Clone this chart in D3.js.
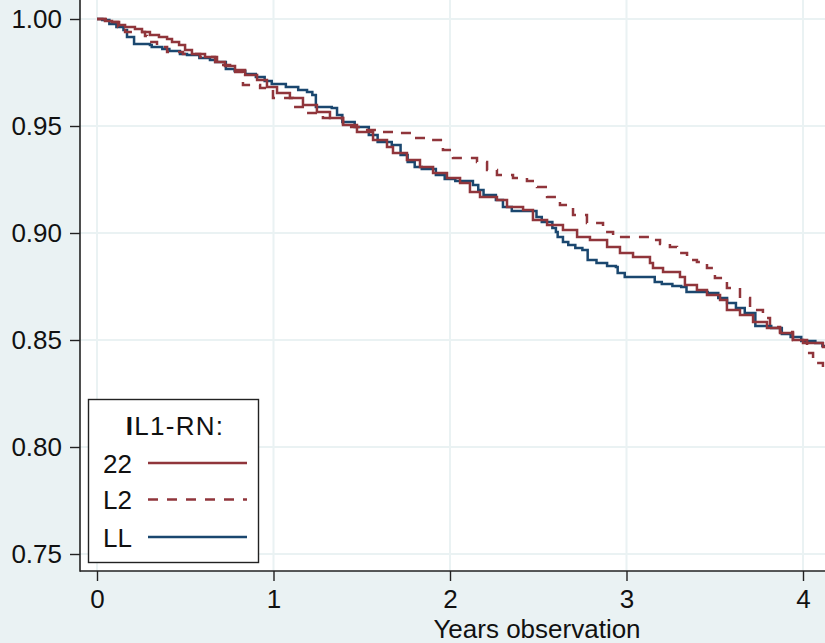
<!DOCTYPE html>
<html>
<head>
<meta charset="utf-8">
<script src="https://cdn.jsdelivr.net/npm/d3@7"></script>
<style>
  html, body { margin: 0; padding: 0; background: #eaf2f3; }
  svg { display: block; }
  text { font-family: "Liberation Sans", Arial, Helvetica, sans-serif; fill: #111; }
</style>
</head>
<body>
<svg id="chart" width="825" height="643"></svg>
<script>
// ---- data (Kaplan-Meier survival estimates by IL1-RN genotype) ----
const groups = ["22", "L2", "LL"];
const legendTitle = "IL1-RN:";
const xLabel = "Years observation";
const xTicks = [0, 1, 2, 3, 4];
const yTicks = [0.75, 0.80, 0.85, 0.90, 0.95, 1.00];

const time22 = [0, 0.045, 0.085, 0.125, 0.159, 0.215, 0.255, 0.300, 0.351, 0.397, 0.425, 0.465, 0.499, 0.538, 0.612, 0.669, 0.725, 0.782, 0.839, 0.907, 0.963, 1.020, 1.093, 1.167, 1.246, 1.320, 1.394, 1.473, 1.564, 1.643, 1.677, 1.756, 1.830, 1.904, 1.983, 2.057, 2.113, 2.170, 2.266, 2.323, 2.414, 2.470, 2.550, 2.640, 2.720, 2.793, 2.890, 2.963, 3.037, 3.133, 3.150, 3.207, 3.303, 3.331, 3.399, 3.456, 3.530, 3.569, 3.643, 3.717, 3.796, 3.870, 3.943, 4.023, 4.113, 4.200];
const surv22 = [1, 0.9991, 0.9986, 0.9972, 0.9963, 0.9953, 0.9939, 0.9925, 0.9916, 0.9907, 0.9893, 0.9879, 0.9855, 0.9836, 0.9822, 0.9799, 0.9780, 0.9762, 0.9738, 0.9715, 0.9682, 0.9654, 0.9631, 0.9598, 0.9565, 0.9537, 0.9505, 0.9472, 0.9435, 0.9402, 0.9374, 0.9341, 0.9308, 0.9280, 0.9257, 0.9234, 0.9192, 0.9168, 0.9154, 0.9121, 0.9107, 0.9061, 0.9037, 0.9014, 0.8981, 0.8967, 0.8935, 0.8907, 0.8888, 0.8860, 0.8836, 0.8818, 0.8794, 0.8757, 0.8734, 0.8710, 0.8687, 0.8640, 0.8617, 0.8584, 0.8556, 0.8533, 0.8500, 0.8486, 0.8467, 0.8467];

const timeL2 = [0, 0.062, 0.119, 0.159, 0.272, 0.283, 0.340, 0.397, 0.487, 0.584, 0.680, 0.754, 0.827, 0.924, 0.997, 1.110, 1.190, 1.280, 1.394, 1.490, 1.603, 1.717, 1.790, 1.870, 1.960, 2.017, 2.153, 2.210, 2.266, 2.357, 2.436, 2.493, 2.550, 2.623, 2.697, 2.776, 2.867, 2.924, 3.133, 3.190, 3.246, 3.286, 3.343, 3.399, 3.456, 3.501, 3.569, 3.643, 3.700, 3.773, 3.813, 3.870, 3.943, 4.000, 4.023, 4.057, 4.113, 4.200];
const survL2 = [1, 0.9986, 0.9963, 0.9939, 0.9921, 0.9893, 0.9869, 0.9846, 0.9836, 0.9822, 0.9785, 0.9752, 0.9692, 0.9678, 0.9631, 0.9589, 0.9561, 0.9537, 0.9495, 0.9481, 0.9472, 0.9467, 0.9444, 0.9435, 0.9388, 0.9350, 0.9332, 0.9294, 0.9271, 0.9257, 0.9243, 0.9215, 0.9168, 0.9131, 0.9084, 0.9047, 0.9005, 0.8981, 0.8967, 0.8949, 0.8935, 0.8907, 0.8874, 0.8864, 0.8836, 0.8790, 0.8743, 0.8696, 0.8640, 0.8603, 0.8561, 0.8537, 0.8500, 0.8486, 0.8439, 0.8393, 0.8369, 0.8369];

const timeLL = [0, 0.03, 0.07, 0.11, 0.15, 0.17, 0.21, 0.30, 0.31, 0.37, 0.41, 0.47, 0.51, 0.58, 0.64, 0.67, 0.73, 0.78, 0.84, 0.90, 0.95, 0.99, 1.07, 1.14, 1.19, 1.22, 1.24, 1.33, 1.36, 1.39, 1.46, 1.54, 1.59, 1.67, 1.72, 1.76, 1.80, 1.84, 1.92, 1.97, 2.03, 2.13, 2.16, 2.19, 2.26, 2.30, 2.35, 2.49, 2.52, 2.58, 2.60, 2.61, 2.64, 2.67, 2.71, 2.75, 2.78, 2.83, 2.89, 2.94, 2.95, 2.99, 3.16, 3.20, 3.26, 3.31, 3.34, 3.46, 3.52, 3.57, 3.62, 3.67, 3.73, 3.82, 3.88, 3.93, 3.99, 4.07, 4.11, 4.20];
const survLL = [1, 0.9995, 0.9977, 0.9963, 0.9949, 0.9916, 0.9883, 0.9879, 0.9869, 0.9860, 0.9850, 0.9836, 0.9832, 0.9818, 0.9808, 0.9799, 0.9766, 0.9757, 0.9743, 0.9729, 0.9710, 0.9696, 0.9682, 0.9668, 0.9659, 0.9645, 0.9589, 0.9584, 0.9551, 0.9519, 0.9495, 0.9458, 0.9425, 0.9411, 0.9364, 0.9332, 0.9308, 0.9299, 0.9271, 0.9252, 0.9243, 0.9224, 0.9201, 0.9178, 0.9154, 0.9121, 0.9103, 0.9075, 0.9051, 0.9023, 0.9005, 0.8981, 0.8958, 0.8944, 0.8930, 0.8921, 0.8874, 0.8860, 0.8846, 0.8841, 0.8813, 0.8794, 0.8771, 0.8762, 0.8752, 0.8748, 0.8724, 0.8720, 0.8696, 0.8673, 0.8650, 0.8626, 0.8565, 0.8556, 0.8528, 0.8514, 0.8495, 0.8486, 0.8472, 0.8472];

// ---- layout ----
const W = 825, H = 643;
const plotL = 80, plotR = 825, plotT = 0, plotB = 571;
const fontSize = 26;
const colors = { "22": "#90353b", "L2": "#90353b", "LL": "#1a476f" };
const dashes = { "22": null, "L2": "10,9", "LL": null };

const svg = d3.select("#chart");
svg.append("rect").attr("x", 0).attr("y", 0).attr("width", W).attr("height", H).attr("fill", "#eaf2f3");
svg.append("rect").attr("x", plotL).attr("y", plotT).attr("width", plotR - plotL).attr("height", plotB - plotT).attr("fill", "#ffffff");

const x = d3.scaleLinear().domain([0, 4]).range([97, 803]);
const y = d3.scaleLinear().domain([0.75, 1.00]).range([554, 19]);

// gridlines
const grid = svg.append("g");
grid.selectAll("line.h").data(yTicks).join("line")
  .attr("x1", plotL).attr("x2", plotR)
  .attr("y1", d => y(d)).attr("y2", d => y(d))
  .attr("stroke", "#eaf2f3").attr("stroke-width", 2);
grid.selectAll("line.v").data(xTicks).join("line")
  .attr("y1", plotT).attr("y2", plotB)
  .attr("x1", d => x(d)).attr("x2", d => x(d))
  .attr("stroke", "#eaf2f3").attr("stroke-width", 2);

// curves
svg.append("clipPath").attr("id", "clip").append("rect")
  .attr("x", plotL).attr("y", plotT).attr("width", plotR - plotL).attr("height", plotB - plotT);

const series = [
  { key: "22", t: time22, s: surv22 },
  { key: "L2", t: timeL2, s: survL2 },
  { key: "LL", t: timeLL, s: survLL }
];
const line = d3.line().x(d => x(d[0])).y(d => y(d[1])).curve(d3.curveStepAfter);
const drawOrder = ["LL", "L2", "22"];
const curves = svg.append("g").attr("clip-path", "url(#clip)");
drawOrder.forEach(k => {
  const sr = series.find(d => d.key === k);
  const pts = sr.t.map((t, i) => [t, sr.s[i]]);
  curves.append("path").datum(pts)
    .attr("d", line)
    .attr("fill", "none")
    .attr("stroke", colors[k])
    .attr("stroke-width", 2.5)
    .attr("stroke-dasharray", dashes[k])
    .attr("stroke-linejoin", "miter");
});

// axes
const yAxis = d3.axisLeft(y).tickValues(yTicks).tickFormat(d3.format(".2f")).tickSize(10).tickPadding(8);
const gy = svg.append("g").attr("transform", `translate(${plotL},0)`).call(yAxis);
gy.select(".domain").remove();
gy.selectAll(".tick line").attr("stroke", "#222").attr("stroke-width", 1.4);
gy.selectAll(".tick text").attr("font-size", fontSize).attr("fill", "#111")
  .attr("font-family", "Liberation Sans, Arial, Helvetica, sans-serif");

const xAxis = d3.axisBottom(x).tickValues(xTicks).tickFormat(d3.format("d")).tickSize(10).tickPadding(8.5);
const gx = svg.append("g").attr("transform", `translate(0,${plotB})`).call(xAxis);
gx.select(".domain").remove();
gx.selectAll(".tick line").attr("stroke", "#222").attr("stroke-width", 1.4);
gx.selectAll(".tick text").attr("font-size", fontSize).attr("fill", "#111")
  .attr("font-family", "Liberation Sans, Arial, Helvetica, sans-serif");

svg.append("line").attr("x1", plotL).attr("x2", plotL).attr("y1", plotT).attr("y2", plotB + 0.7)
  .attr("stroke", "#222").attr("stroke-width", 1.6);
svg.append("line").attr("x1", plotL).attr("x2", plotR).attr("y1", plotB).attr("y2", plotB)
  .attr("stroke", "#222").attr("stroke-width", 1.6);

svg.append("text").attr("x", 537).attr("y", 638).attr("text-anchor", "middle")
  .attr("font-size", fontSize).text(xLabel);

// legend
const lg = svg.append("g");
lg.append("rect").attr("x", 88.5).attr("y", 399.5).attr("width", 170).attr("height", 163)
  .attr("fill", "#ffffff").attr("stroke", "#222").attr("stroke-width", 1.4);
const lt = lg.append("text").attr("x", 175).attr("y", 435).attr("text-anchor", "middle")
  .attr("font-size", fontSize).attr("letter-spacing", 1.3);
lt.append("tspan").attr("font-weight", "bold").text(legendTitle.slice(0, 1));
lt.append("tspan").text(legendTitle.slice(1));
const rowY = [463, 499.5, 537];
groups.forEach((g, i) => {
  lg.append("text").attr("x", 103).attr("y", rowY[i] + 9.5).attr("font-size", fontSize).text(g);
  lg.append("line").attr("x1", 148).attr("x2", 247).attr("y1", rowY[i]).attr("y2", rowY[i])
    .attr("stroke", colors[g]).attr("stroke-width", 2.3).attr("stroke-dasharray", dashes[g]);
});
</script>
</body>
</html>
